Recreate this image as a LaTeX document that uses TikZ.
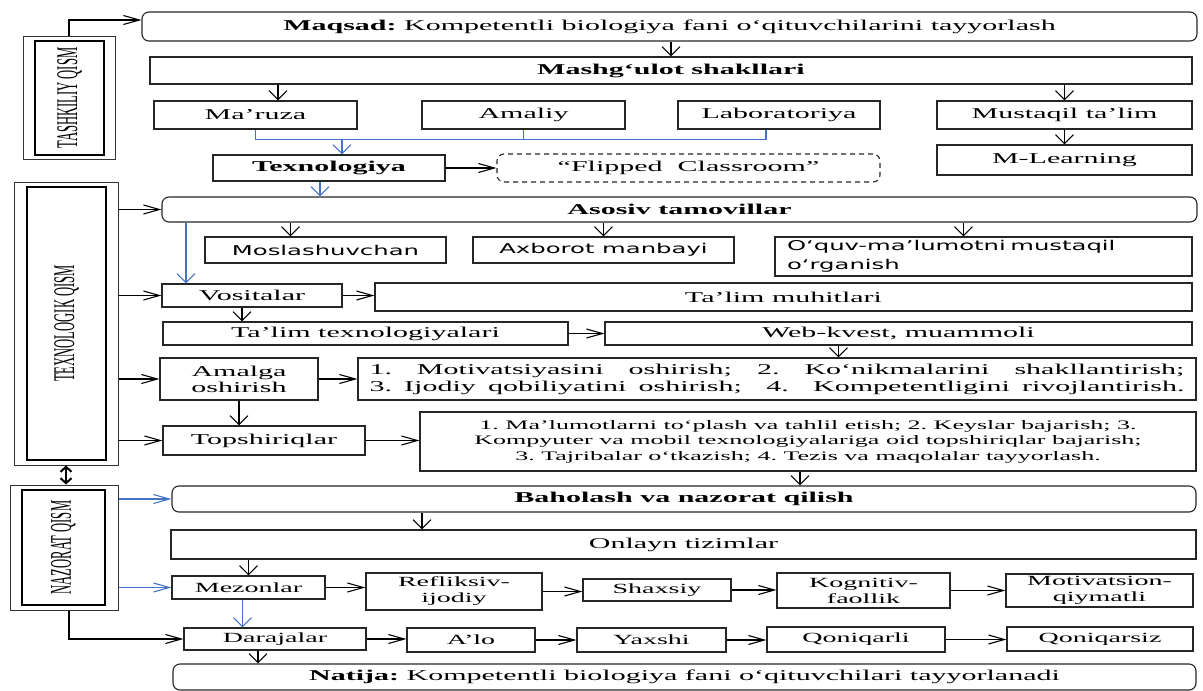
\documentclass[tikz,border=0pt]{standalone}
\usepackage{fontspec}
\setmainfont{Liberation Serif}[FakeStretch=2.0]
\newfontfamily\sansf{DejaVu Sans}[FakeStretch=1.8]
\newfontfamily\vertf{Liberation Serif}[FakeStretch=0.42]
\usetikzlibrary{arrows.meta,calc}
\definecolor{conblue}{RGB}{68,114,196}
\newcommand\fsz[2]{\fontsize{#1}{#2}\selectfont}
\newcommand\mkbox[7][]{%
  \pgfmathsetmacro\bcx{(#3+#5)/2}%
  \pgfmathsetmacro\bcy{(#4+#6)/2}%
  \pgfmathsetmacro\bw{#5-#3}%
  \pgfmathsetmacro\bh{#6-#4}%
  \node[rbox,minimum width=\bw pt,minimum height=\bh pt,#1] (#2) at (\bcx,\bcy) {#7};}
\tikzset{
  rbox/.style={draw=black!85, line width=1.1pt, inner sep=2pt, align=center, font=\fsz{15}{17}},
  roundbox/.style={rounded corners=7pt},
  dashbox/.style={dashed, dash pattern=on 5pt off 4pt, rounded corners=7pt},
  sbox/.style={font=\sansf\fsz{13.5}{19}},
  smallf/.style={font=\fsz{14}{16}},
  outerpanel/.style={draw=black!80, line width=1pt},
  innerpanel/.style={draw=black, line width=1.5pt},
  conn/.style={line width=1.1pt, draw=black},
  harr/.style={conn, -{Straight Barb[length=16pt,width=9pt]}},
  varr/.style={conn, -{Straight Barb[length=9pt,width=18pt]}},
  hblue/.style={harr, draw=conblue},
  vblue/.style={varr, draw=conblue},
  blueline/.style={conn, draw=conblue},
  dblarr/.style={line width=2pt, draw=black, {Straight Barb[length=5pt,width=11pt]}-{Straight Barb[length=5pt,width=11pt]}},
}
\begin{document}
\frenchspacing
\begin{tikzpicture}[x=1pt,y=-1pt]
\useasboundingbox (0,0) rectangle (1203,691);
% left panels
\mkbox[outerpanel]{tash}{23}{36}{115}{159}{}
\mkbox[innerpanel]{tashin}{35}{41}{104}{155}{\rotatebox{90}{\vertf\fsz{30}{32}TASHKILIY QISM}}
\mkbox[outerpanel]{tex}{14}{182}{118}{465}{}
\mkbox[innerpanel]{texin}{27}{187}{106}{460}{\rotatebox{90}{\vertf\fsz{30}{32}TEXNOLOGIK QISM}}
\mkbox[outerpanel]{naz}{10}{485}{118}{610}{}
\mkbox[innerpanel]{nazin}{22}{490}{105}{605}{\rotatebox{90}{\vertf\fsz{30}{32}NAZORAT QISM}}
% top part
\mkbox[roundbox]{maqsad}{142}{12}{1197}{41}{\textbf{Maqsad:} Kompetentli biologiya fani o‘qituvchilarini tayyorlash}
\mkbox{mash}{150}{57}{1192}{84}{\textbf{Mashg‘ulot shakllari}}
\mkbox{maruza}{154}{101}{357}{129}{Ma’ruza}
\mkbox{amaliy}{422}{101}{625}{129}{Amaliy}
\mkbox{lab}{678}{101}{880}{129}{Laboratoriya}
\mkbox{mustaqil}{937}{101}{1192}{129}{Mustaqil ta’lim}
\mkbox{mlearn}{937}{145}{1192}{175}{M-Learning}
\mkbox{texno}{213}{155}{445}{181}{\textbf{Texnologiya}}
\mkbox[dashbox]{flipped}{497}{154}{880}{182}{“Flipped\ \ Classroom”}
\mkbox[roundbox]{asosiv}{162}{197}{1197}{222}{\textbf{Asosiv tamovillar}}
\mkbox[sbox]{mosl}{205}{237}{446}{263}{Moslashuvchan}
\mkbox[sbox]{axb}{473}{237}{734}{263}{Axborot manbayi}
\mkbox[sbox,align=left,text width=393pt,inner xsep=12pt]{oquv}{775}{237}{1192}{276}{O‘quv-ma’lumotni mustaqil\\o‘rganish}
\mkbox{vosit}{162}{284}{342}{307}{Vositalar}
\mkbox{muhit}{375}{283}{1192}{311}{Ta’lim muhitlari}
\mkbox{talt}{163}{322}{568}{345}{Ta’lim texnologiyalari}
\mkbox{web}{605}{322}{1192}{345}{Web-kvest, muammoli}
\mkbox[font=\fsz{15}{16}]{amalga}{160}{358}{318}{400}{Amalga\\oshirish}
\mkbox{motiv}{358}{358}{1196}{400}{\makebox[815pt][s]{1.\ \ Motivatsiyasini\ \ oshirish;\ \ 2.\ \ Ko‘nikmalarini\ \ shakllantirish;}\\\makebox[815pt][s]{3. Ijodiy qobiliyatini oshirish;\ \ 4.\ \ Kompetentligini rivojlantirish.}}
\mkbox{tops}{163}{426}{365}{455}{Topshiriqlar}
\mkbox[font=\fsz{13}{15.5}]{task}{420}{412}{1196}{471}{1. Ma’lumotlarni to‘plash va tahlil etish; 2. Keyslar bajarish; 3.\\Kompyuter va mobil texnologiyalariga oid topshiriqlar bajarish;\\3. Tajribalar o‘tkazish; 4. Tezis va maqolalar tayyorlash.}
% control part
\mkbox[roundbox]{baho}{172}{486}{1196}{512}{\textbf{Baholash va nazorat qilish}}
\mkbox{onl}{171}{530}{1196}{559}{Onlayn tizimlar}
\mkbox[smallf]{mez}{172}{576}{325}{599}{Mezonlar}
\mkbox[smallf]{refl}{366}{573}{542}{610}{Refliksiv-\\ijodiy}
\mkbox[smallf]{shax}{583}{579}{731}{601}{Shaxsiy}
\mkbox[smallf]{kogn}{777}{573}{950}{608}{Kognitiv-\\faollik}
\mkbox[smallf]{motv}{1006}{574}{1193}{607}{Motivatsion-\\qiymatli}
\mkbox[smallf]{dar}{184}{628}{366}{650}{Darajalar}
\mkbox[smallf]{alo}{407}{628}{535}{652}{A’lo}
\mkbox[smallf]{yax}{577}{628}{726}{652}{Yaxshi}
\mkbox[smallf]{qoni}{767}{627}{945}{652}{Qoniqarli}
\mkbox[smallf]{qonz}{1007}{627}{1193}{651}{Qoniqarsiz}
\mkbox[roundbox]{natija}{173}{664}{1196}{690}{\textbf{Natija:} Kompetentli biologiya fani o‘qituvchilari tayyorlanadi}
% connectors
\draw[harr] (tash.north) |- ([yshift=6.5pt]maqsad.west);
\draw[varr] (mash.north |- maqsad.south) -- (mash.north);
\coordinate (c1) at ([xshift=22.5pt]maruza.north);
\draw[varr] (c1 |- mash.south) -- (c1);
\draw[varr] (mustaqil.north |- mash.south) -- (mustaqil.north);
\draw[varr] (mustaqil.south) -- (mlearn.north);
\coordinate (brk) at ([yshift=-10pt]maruza.south);
\coordinate (c2) at ([xshift=-13pt]lab.south);
\draw[blueline] (maruza.south) |- (c2 |- brk) -- (c2);
\draw[blueline] (amaliy.south) -- (amaliy.south |- brk);
\coordinate (c3) at ([xshift=13pt]texno.north);
\draw[vblue] (c3 |- brk) -- (c3);
\draw[harr] (texno.east) -- (flipped.west);
\coordinate (c4) at ([xshift=-9pt]texno.south);
\draw[vblue] (c4) -- (c4 |- asosiv.north);
\coordinate (c5) at ([xshift=-35pt]mosl.north);
\draw[varr] (c5 |- asosiv.south) -- (c5);
\draw[varr] (axb.north |- asosiv.south) -- (axb.north);
\coordinate (c6) at ([xshift=-20pt]oquv.north);
\draw[varr] (c6 |- asosiv.south) -- (c6);
\coordinate (c7) at ([xshift=-66pt]vosit.north);
\draw[vblue] (c7 |- asosiv.south) -- (c7);
\draw[harr] (vosit.east) -- (vosit.east -| muhit.west);
\coordinate (c8) at ([xshift=-10pt]vosit.south);
\draw[varr] (c8) -- (c8 |- talt.north);
\draw[harr] (talt.east) -- (talt.east -| web.west);
\coordinate (c9) at ([xshift=-60pt]web.south);
\draw[varr] (c9) -- (c9 |- motiv.north);
\draw[harr] (amalga.east) -- (amalga.east -| motiv.west);
\draw[varr] (amalga.south) -- (amalga.south |- tops.north);
\draw[harr] (tops.east) -- (tops.east -| task.west);
\coordinate (c10) at ([xshift=-8pt]task.south);
\draw[varr] (c10) -- (c10 |- baho.north);
\coordinate (c11) at ([xshift=-262pt]baho.south);
\draw[varr] (c11) -- (c11 |- onl.north);
\draw[varr] (mez.north |- onl.south) -- (mez.north);
\draw[harr] (mez.east) -- (mez.east -| refl.west);
\draw[harr] (refl.east) -- (refl.east -| shax.west);
\draw[harr] (shax.east) -- (shax.east -| kogn.west);
\draw[harr] (kogn.east) -- (kogn.east -| motv.west);
\coordinate (c12) at ([xshift=-6pt]mez.south);
\draw[vblue] (c12) -- (c12 |- dar.north);
\draw[harr] (dar.east) -- (dar.east -| alo.west);
\draw[harr] (alo.east) -- (alo.east -| yax.west);
\draw[harr] (yax.east) -- (yax.east -| qoni.west);
\draw[harr] (qoni.east) -- (qoni.east -| qonz.west);
\coordinate (c13) at ([xshift=-17pt]dar.south);
\draw[varr] (c13) -- (c13 |- natija.north);
\foreach \t in {asosiv,vosit,amalga,tops} \draw[harr] (\t.west -| tex.east) -- (\t.west);
\draw[hblue] (baho.west -| naz.east) -- (baho.west);
\draw[hblue] (mez.west -| naz.east) -- (mez.west);
\coordinate (c14) at ([xshift=5pt]naz.south);
\draw[harr] (c14) |- (dar.west);
\draw[dblarr] (tex.south) -- (tex.south |- naz.north);
\end{tikzpicture}
\end{document}
